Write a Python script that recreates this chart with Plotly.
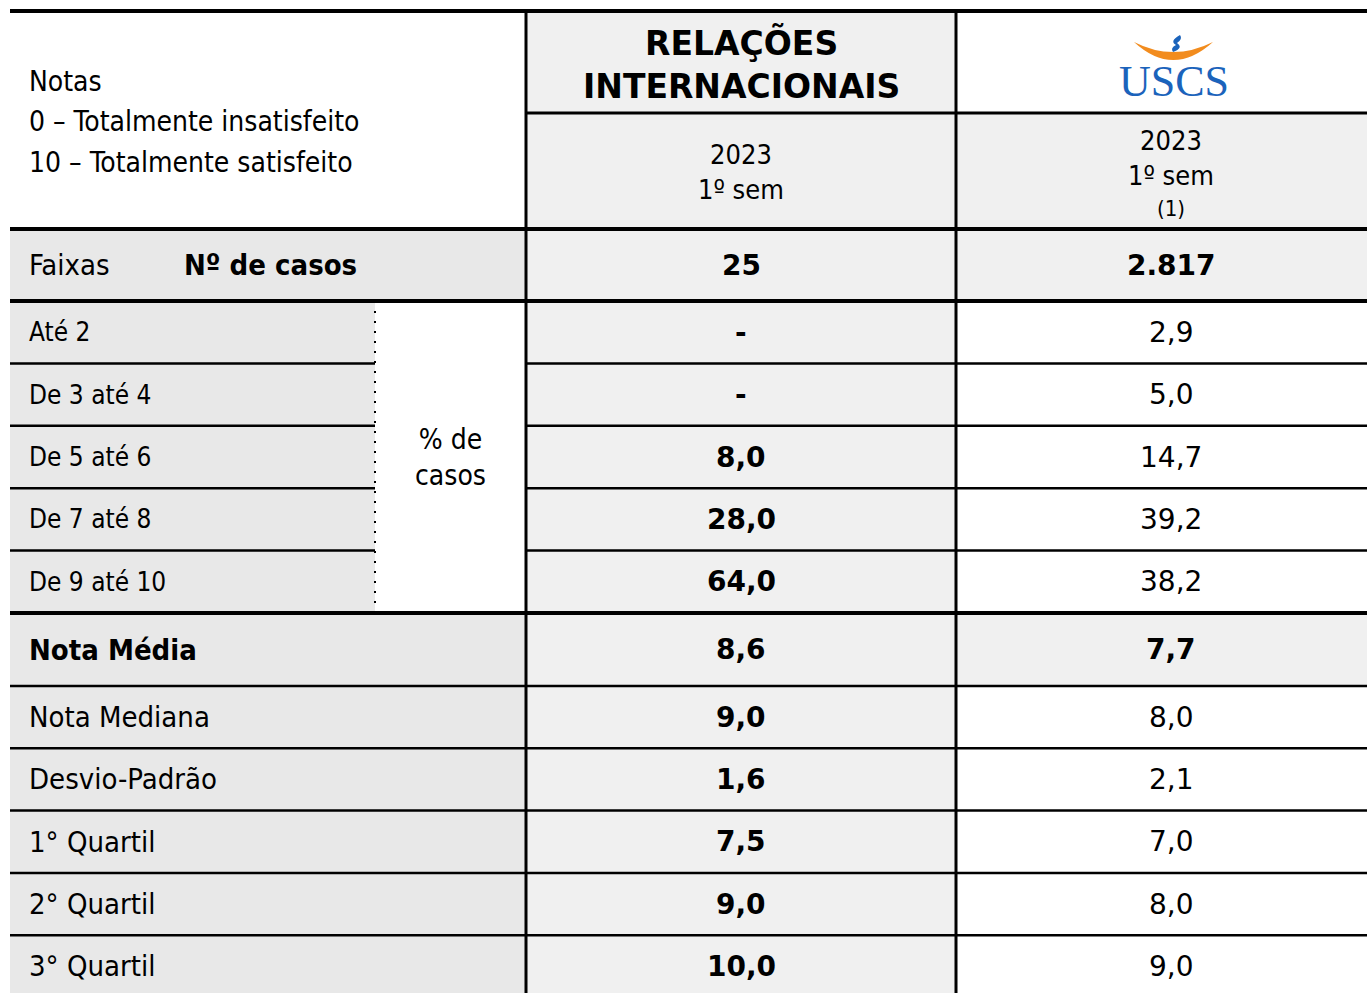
import plotly.graph_objects as go

# dados da tabela
faixas = ["Até 2", "De 3 até 4", "De 5 até 6", "De 7 até 8", "De 9 até 10"]
pct_ri = [None, None, 8.0, 28.0, 64.0]
pct_uscs = [2.9, 5.0, 14.7, 39.2, 38.2]

estatisticas = ["Nota Média", "Nota Mediana", "Desvio-Padrão", "1° Quartil", "2° Quartil", "3° Quartil"]
estat_ri = [8.6, 9.0, 1.6, 7.5, 9.0, 10.0]
estat_uscs = [7.7, 8.0, 2.1, 7.0, 8.0, 9.0]

casos = [25, 2817]
periodos = ["2023<br>1º sem", "2023<br>1º sem"]
nota_uscs = "(1)"
legenda_notas = ["Notas", "0 – Totalmente insatisfeito", "10 – Totalmente satisfeito"]

FONTE = "DejaVu Sans Condensed, DejaVu Sans, sans-serif"
FONTE_NUM = "DejaVu Sans, sans-serif"
CINZA_ESQ = "#e8e8e8"
CINZA = "#f0f0f0"

W, H = 1367, 993
X0, XS, XC1, XC2, X1 = 10, 375, 526, 956, 1367
CX1, CX2 = 741, 1171   # centros das colunas de valores (a tabela continua alem da borda direita)
Y_TOP, Y_HDR, Y_CASOS, Y_FX = 11, 113, 229, 301
PASSO = 62.4

fx_edges = [Y_FX + PASSO * k for k in range(len(faixas) + 1)]
Y_EST = fx_edges[-1]
est_edges = [Y_EST, Y_EST + 73] + [Y_EST + 73 + 62.3 * k for k in range(1, len(estatisticas))]


def fmt(v):
    if v is None:
        return "-"
    return f"{v:.1f}".replace(".", ",")


def fmt_int(v):
    return f"{v:,}".replace(",", ".")


def centro(a, b):
    return (a + b) / 2


fig = go.Figure()
shapes = []
annots = []


def retangulo(x0, y0, x1, y1, cor):
    shapes.append(dict(type="rect", xref="x", yref="y", x0=x0, y0=y0, x1=x1, y1=y1,
                       fillcolor=cor, line_width=0, layer="below"))


def linha(x0, y0, x1, y1, w, dash="solid"):
    shapes.append(dict(type="line", xref="x", yref="y", x0=x0, y0=y0, x1=x1, y1=y1,
                       line=dict(color="black", width=w, dash=dash)))


def texto(x, y, t, size=27, bold=False, anchor="center", family=FONTE, cor="black"):
    if bold:
        t = f"<b>{t}</b>"
    annots.append(dict(x=x, y=y, xref="x", yref="y", text=t, showarrow=False,
                       xanchor=anchor, yanchor="middle", align="center",
                       font=dict(family=family, size=size, color=cor)))


# fundos
retangulo(X0, Y_CASOS, XC1, H, CINZA_ESQ)
retangulo(XS, Y_FX, XC1, Y_EST, "white")
retangulo(XC1, Y_TOP, XC2, H, CINZA)
retangulo(XC2, Y_HDR, X1, Y_FX, CINZA)
retangulo(XC2, est_edges[0], X1, est_edges[1], CINZA)

# linhas
linha(X0, Y_TOP, X1, Y_TOP, 4)
linha(XC1, Y_HDR, X1, Y_HDR, 3)
for y in (Y_CASOS, Y_FX, Y_EST):
    linha(X0, y, X1, y, 4)
for y in fx_edges[1:-1]:
    linha(X0, y, XS, y, 2.5)
    linha(XC1, y, X1, y, 2.5)
for y in est_edges[1:-1]:
    linha(X0, y, X1, y, 2.5)
linha(XC1, Y_TOP, XC1, H, 3)
linha(XC2, Y_TOP, XC2, H, 3)
linha(XS, Y_FX, XS, Y_EST, 2, dash="2px,8px")

# cabecalho
for i, t in enumerate(legenda_notas):
    texto(27, 81 + 40.5 * i, t, size=28, anchor="left")
texto(CX1, 64, "RELAÇÕES<br>INTERNACIONAIS", size=33, bold=True, family=FONTE_NUM)

# logo USCS
texto(1174, 81, "USCS", size=44, family="Liberation Serif, Times New Roman, serif", cor="#1b63bb")
shapes.append(dict(type="path", xref="x", yref="y",
                   path="M 1134 42 Q 1173 78 1213 42 Q 1173 62 1134 42 Z",
                   fillcolor="#f28c1e", line_width=0))
shapes.append(dict(type="path", xref="x", yref="y",
                   path="M 1180 35 Q 1169 41 1176 45 Q 1170 48 1173 52 Q 1184 48 1177 43 Q 1183 39 1180 35 Z",
                   fillcolor="#1b63bb", line_width=0))

texto(CX1, 172, periodos[0])
texto(CX2, 158, periodos[1])
texto(CX2, 208, nota_uscs, size=22)

# numero de casos
yc = centro(Y_CASOS, Y_FX)
texto(27, yc, "Faixas", size=29, anchor="left")
texto(182, yc, "Nº de casos", size=29, bold=True, anchor="left")
texto(CX1, yc, fmt_int(casos[0]), size=28, bold=True, family=FONTE_NUM)
texto(CX2, yc, fmt_int(casos[1]), size=28, bold=True, family=FONTE_NUM)

# faixas
for i, nome in enumerate(faixas):
    y = centro(fx_edges[i], fx_edges[i + 1])
    texto(27, y, nome, size=26, anchor="left")
    texto(CX1, y, fmt(pct_ri[i]), size=28, bold=True, family=FONTE_NUM)
    texto(CX2, y, fmt(pct_uscs[i]), size=28, family=FONTE_NUM)
texto(centro(XS, XC1), centro(Y_FX, Y_EST), "% de<br>casos", size=28)

# estatisticas
for i, nome in enumerate(estatisticas):
    y = centro(est_edges[i], est_edges[i + 1])
    destaque = i == 0
    texto(27, y, nome, size=29, bold=destaque, anchor="left")
    texto(CX1, y, fmt(estat_ri[i]), size=28, bold=True, family=FONTE_NUM)
    texto(CX2, y, fmt(estat_uscs[i]), size=28, bold=destaque, family=FONTE_NUM)

fig.update_layout(
    width=W, height=H,
    margin=dict(l=0, r=0, t=0, b=0),
    paper_bgcolor="white", plot_bgcolor="white",
    xaxis=dict(range=[0, W], visible=False, fixedrange=True),
    yaxis=dict(range=[H, 0], visible=False, fixedrange=True),
    shapes=shapes, annotations=annots,
    showlegend=False,
)

fig.write_html("out.html", config={"displayModeBar": False},
               post_script="document.body.style.margin='0';")
